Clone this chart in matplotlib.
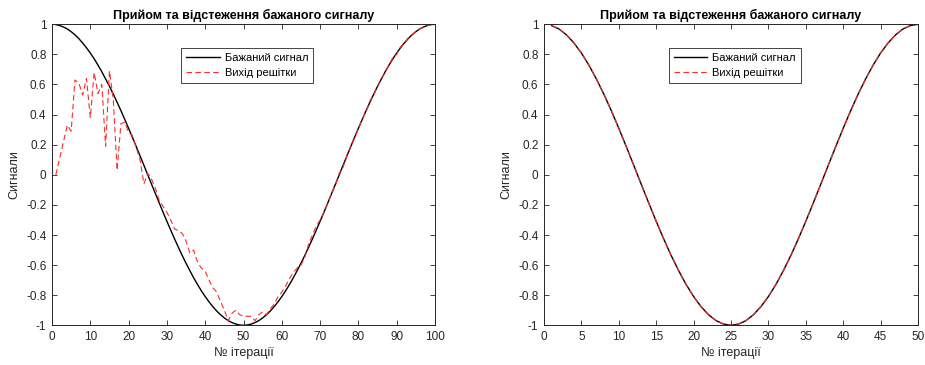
import matplotlib
matplotlib.use('Agg')
import matplotlib.pyplot as plt
import numpy as np

plt.rcParams['font.family'] = ['Liberation Sans', 'DejaVu Sans']

# ліва частина: 100 ітерацій
iter_left = list(range(1, 101))
desired_left = [
    0.998, 0.992, 0.982, 0.969, 0.951, 0.930, 0.905, 0.876, 0.844, 0.809,
    0.771, 0.729, 0.685, 0.637, 0.588, 0.536, 0.482, 0.426, 0.368, 0.309,
    0.249, 0.187, 0.125, 0.063, 0.000, -0.063, -0.125, -0.187, -0.249, -0.309,
    -0.368, -0.426, -0.482, -0.536, -0.588, -0.637, -0.685, -0.729, -0.771, -0.809,
    -0.844, -0.876, -0.905, -0.930, -0.951, -0.969, -0.982, -0.992, -0.998, -1.000,
    -0.998, -0.992, -0.982, -0.969, -0.951, -0.930, -0.905, -0.876, -0.844, -0.809,
    -0.771, -0.729, -0.685, -0.637, -0.588, -0.536, -0.482, -0.426, -0.368, -0.309,
    -0.249, -0.187, -0.125, -0.063, 0.000, 0.063, 0.125, 0.187, 0.249, 0.309,
    0.368, 0.426, 0.482, 0.536, 0.588, 0.637, 0.685, 0.729, 0.771, 0.809,
    0.844, 0.876, 0.905, 0.930, 0.951, 0.969, 0.982, 0.992, 0.998, 1.000]
output_left = [
    0.00, 0.11, 0.22, 0.33, 0.29, 0.63, 0.61, 0.53, 0.64, 0.38,
    0.68, 0.54, 0.60, 0.19, 0.69, 0.50, 0.03, 0.34, 0.35, 0.28,
    0.26, 0.18, 0.10, -0.06, 0.01, -0.03, -0.09, -0.17, -0.21, -0.25,
    -0.30, -0.36, -0.37, -0.39, -0.44, -0.52, -0.50, -0.58, -0.62, -0.64,
    -0.70, -0.75, -0.78, -0.84, -0.90, -0.97, -0.92, -0.90, -0.93, -0.94,
    -0.94, -0.94, -0.97, -0.93, -0.91, -0.93, -0.89, -0.86, -0.81, -0.78,
    -0.74, -0.69, -0.65, -0.62, -0.60, -0.55, -0.46, -0.40, -0.34, -0.30,
    -0.25, -0.19, -0.12, -0.07, 0.01, 0.05, 0.13, 0.19, 0.24, 0.31,
    0.37, 0.42, 0.49, 0.53, 0.59, 0.64, 0.68, 0.73, 0.78, 0.80,
    0.85, 0.87, 0.91, 0.93, 0.95, 0.97, 0.98, 0.99, 1.00, 1.00]

# права частина: 50 ітерацій
iter_right = list(range(1, 51))
desired_right = [
    0.992, 0.969, 0.930, 0.876, 0.809, 0.729, 0.637, 0.536, 0.426, 0.309,
    0.187, 0.063, -0.063, -0.187, -0.309, -0.426, -0.536, -0.637, -0.729, -0.809,
    -0.876, -0.930, -0.969, -0.992, -1.000, -0.992, -0.969, -0.930, -0.876, -0.809,
    -0.729, -0.637, -0.536, -0.426, -0.309, -0.187, -0.063, 0.063, 0.187, 0.309,
    0.426, 0.536, 0.637, 0.729, 0.809, 0.876, 0.930, 0.969, 0.992, 1.000]
output_right = [
    0.992, 0.969, 0.930, 0.876, 0.809, 0.729, 0.637, 0.536, 0.426, 0.309,
    0.187, 0.063, -0.063, -0.187, -0.309, -0.426, -0.536, -0.637, -0.729, -0.809,
    -0.876, -0.930, -0.969, -0.992, -1.000, -0.992, -0.969, -0.930, -0.876, -0.809,
    -0.729, -0.637, -0.536, -0.426, -0.309, -0.187, -0.063, 0.063, 0.187, 0.309,
    0.426, 0.536, 0.637, 0.729, 0.809, 0.876, 0.930, 0.969, 0.992, 1.000]

title = 'Прийом та відстеження бажаного сигналу'
yticks = [-1, -0.8, -0.6, -0.4, -0.2, 0, 0.2, 0.4, 0.6, 0.8, 1]
ytick_labels = ['-1', '-0.8', '-0.6', '-0.4', '-0.2', '0', '0.2', '0.4', '0.6', '0.8', '1']

W, H = 925, 365
fig = plt.figure(figsize=(W / 100, H / 100), dpi=100)
ax1 = fig.add_axes([52 / W, (H - 325.3) / H, 383 / W, 301 / H])
ax2 = fig.add_axes([544 / W, (H - 325.3) / H, 374 / W, 301 / H])

dark = '#262626'


def style(ax, xmax, xstep, x, d, o):
    ax.plot(x, d, color='black', lw=1.0, label='Бажаний сигнал')
    ax.plot(x, o, color='#ff2a2a', lw=0.8, dashes=(5, 3), label='Вихід решітки')
    ax.set_xlim(0, xmax)
    ax.set_ylim(-1, 1)
    ax.set_xticks(np.arange(0, xmax + 1, xstep))
    ax.set_yticks(yticks)
    ax.set_yticklabels(ytick_labels)
    ax.tick_params(direction='in', length=3.5, width=0.6, top=True, right=True,
                   labelsize=8.5, colors=dark, pad=4)
    for s in ax.spines.values():
        s.set_linewidth(0.7)
        s.set_color(dark)
    ax.set_title(title, fontsize=9, fontweight='bold', pad=4)
    ax.set_xlabel('№ ітерації', fontsize=9, color=dark, labelpad=3)
    ax.set_ylabel('Сигнали', fontsize=9, color=dark, labelpad=4)
    leg = ax.legend(loc='upper center', bbox_to_anchor=(0.51, 0.94), fontsize=8,
                    fancybox=False, framealpha=1, edgecolor=dark,
                    handlelength=3.0, borderpad=0.45, labelspacing=0.45, handletextpad=0.45)
    leg.get_frame().set_linewidth(0.6)


style(ax1, 100, 10, iter_left, desired_left, output_left)
style(ax2, 50, 5, iter_right, desired_right, output_right)

fig.savefig('out.png', dpi=100)
